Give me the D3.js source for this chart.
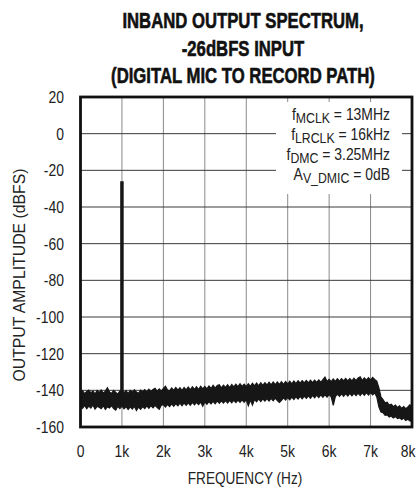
<!DOCTYPE html>
<html>
<head>
<meta charset="utf-8">
<script src="https://cdn.jsdelivr.net/npm/d3@7"></script>
<style>
  html, body { margin: 0; padding: 0; background: #fff; }
  svg { display: block; }
  .f { font-family: "Liberation Sans", Arial, sans-serif; fill: #222; }
</style>
</head>
<body>
<svg id="chart" width="417" height="490"></svg>
<script>
// ---- data ----
const titleLines = ["INBAND OUTPUT SPECTRUM,", "-26dBFS INPUT", "(DIGITAL MIC TO RECORD PATH)"];
const xTicks = [0, 1000, 2000, 3000, 4000, 5000, 6000, 7000, 8000];
const xTickLabels = ["0", "1k", "2k", "3k", "4k", "5k", "6k", "7k", "8k"];
const yTicks = [20, 0, -20, -40, -60, -80, -100, -120, -140, -160];
const yTickLabels = ["20", "0", "-20", "-40", "-60", "-80", "-100", "-120", "-140", "-160"];
const toneFreq = 1000;
const toneLevel = -26;
// noise floor envelope (top / bottom edge), frequency step 50 Hz from 0 to 8000 Hz
const noiseFreqStep = 50;
const noiseUpper = [
 -141.5,-140.2,-141.8,-140.6,-139.9,-141.4,-140.3,-142.0,-140.1,-141.2,
 -139.8,-141.6,-140.4,-138.6,-140.9,-141.7,-140.0,-141.1,-142.0,-140.3,
 -139.9,-141.3,-140.2,-141.8,-140.0,-141.0,-139.7,-140.9,-141.6,-139.9,
 -140.8,-139.6,-141.0,-139.4,-140.7,-139.5,-138.9,-140.6,-139.2,-140.4,
 -139.0,-137.8,-139.9,-140.3,-138.7,-140.0,-138.5,-139.9,-138.6,-140.1,
 -138.5,-139.8,-138.2,-139.7,-138.0,-139.5,-138.1,-139.6,-137.8,-139.2,
 -137.9,-139.2,-137.6,-139.0,-137.3,-138.8,-137.4,-136.9,-138.7,-137.2,
 -138.4,-137.0,-138.5,-136.8,-138.1,-136.7,-138.0,-136.4,-137.9,-136.6,
 -138.0,-136.4,-137.8,-136.2,-137.6,-136.0,-137.5,-135.9,-137.3,-135.8,
 -137.1,-135.6,-137.0,-135.5,-136.9,-135.4,-136.8,-135.3,-136.7,-135.2,
 -136.6,-135.1,-136.5,-134.9,-136.3,-134.8,-136.1,-134.7,-136.0,-134.6,
 -135.9,-134.5,-135.8,-134.4,-135.7,-134.3,-135.6,-134.1,-132.8,-135.2,
 -134.0,-135.3,-133.8,-135.1,-133.7,-135.0,-133.6,-134.9,-133.5,-134.8,
 -133.6,-134.9,-133.4,-134.7,-133.3,-132.6,-134.6,-133.2,-134.5,-133.1,
 -134.4,-133.0,-134.1,-135.0,-138.5,-143.5,-145.0,-146.8,-146.5,-148.0,
 -147.6,-148.9,-148.0,-149.4,-148.5,-149.8,-148.9,-150.0,-149.1,-147.9,
 -149.8
];
const noiseLower = [
 -148.5,-149.8,-148.2,-150.0,-148.6,-149.7,-148.0,-150.3,-148.8,-149.2,
 -150.0,-148.4,-150.4,-148.9,-149.6,-148.3,-149.9,-150.8,-148.7,-149.9,
 -148.6,-150.1,-148.9,-150.4,-149.0,-150.2,-148.7,-151.0,-149.1,-150.3,
 -148.9,-150.0,-148.5,-149.8,-148.3,-149.6,-148.2,-149.4,-150.3,-148.1,
 -147.8,-149.1,-147.6,-148.9,-147.4,-148.7,-147.2,-148.5,-147.0,-148.4,
 -146.9,-148.2,-146.8,-148.1,-146.6,-147.9,-146.5,-147.8,-146.4,-148.6,
 -146.3,-147.6,-146.1,-147.4,-146.0,-147.3,-145.8,-147.1,-145.7,-147.0,
 -145.6,-146.9,-145.5,-146.8,-145.4,-146.7,-145.3,-146.6,-145.2,-146.5,
 -145.1,-148.4,-145.3,-148.0,-144.9,-146.2,-144.7,-146.1,-144.6,-145.9,
 -144.5,-145.8,-144.4,-145.7,-144.3,-145.6,-146.6,-145.4,-144.1,-145.3,
 -143.9,-145.2,-143.7,-145.0,-143.5,-144.8,-143.3,-144.6,-143.1,-144.4,
 -143.0,-144.3,-142.8,-144.1,-142.6,-143.9,-142.5,-143.8,-142.4,-143.7,
 -142.3,-143.6,-148.2,-143.4,-142.1,-143.3,-141.9,-143.2,-141.8,-143.1,
 -141.7,-143.0,-141.6,-142.9,-141.5,-142.8,-141.4,-142.7,-141.3,-142.6,
 -141.2,-142.5,-141.4,-143.6,-149.0,-151.8,-152.2,-153.6,-153.4,-154.5,
 -154.0,-155.1,-154.3,-155.4,-155.0,-155.9,-155.2,-156.4,-155.8,-156.7,
 -156.9
];
const legendLines = [
  { main: "f", sub: "MCLK", rest: " = 13MHz" },
  { main: "f", sub: "LRCLK", rest: " = 16kHz" },
  { main: "f", sub: "DMC", rest: " = 3.25MHz" },
  { main: "A", sub: "V_DMIC", rest: " = 0dB" }
];

// ---- layout ----
const svg = d3.select("#chart");
const L = 80.5, R = 412, T = 97, B = 427;
const x = d3.scaleLinear().domain([0, 8000]).range([L, R]);
const y = d3.scaleLinear().domain([-160, 20]).range([B, T]);
const NARROW = 0.82;

// narrow text helper: Liberation Sans squeezed horizontally like a narrow face
function ntext(parent, px, py, anchor, size, sx, rot) {
  return parent.append("text").attr("class", "f")
    .attr("transform", `translate(${px},${py})` + (rot ? ` rotate(${rot})` : "") + ` scale(${sx},1)`)
    .attr("text-anchor", anchor).style("font-size", size + "px");
}

// title
titleLines.forEach((t, i) => {
  ntext(svg, 243, 28 + i * 27.5, "middle", 22, 0.76)
    .style("font-weight", "bold").style("fill", "#111")
    .style("stroke", "#111").style("stroke-width", "0.6px")
    .text(t);
});

// grid
const grid = svg.append("g");
grid.selectAll("line.v").data(xTicks.slice(1, -1)).join("line")
  .attr("x1", d => x(d)).attr("x2", d => x(d)).attr("y1", T).attr("y2", B)
  .attr("stroke", "#8a8a8a").attr("stroke-width", 1);
grid.selectAll("line.h").data(yTicks.slice(1, -1)).join("line")
  .attr("x1", L).attr("x2", R).attr("y1", d => y(d)).attr("y2", d => y(d))
  .attr("stroke", "#3a3a3a").attr("stroke-width", 1);

// legend background box (covers grid)
svg.append("rect").attr("x", 276).attr("y", 102).attr("width", 126).attr("height", 92).attr("fill", "#fff");

// data
svg.append("clipPath").attr("id", "clip").append("rect")
  .attr("x", L).attr("y", T).attr("width", R - L).attr("height", B - T);
const noise = noiseUpper.map((u, i) => ({ f: i * noiseFreqStep, u: u, l: noiseLower[i] }));
const area = d3.area().x(d => x(d.f)).y0(d => y(d.l)).y1(d => y(d.u));
const dg = svg.append("g").attr("clip-path", "url(#clip)");
dg.append("path").datum(noise).attr("d", area)
  .attr("fill", "#161616").attr("stroke", "#161616").attr("stroke-width", 1.2).attr("stroke-linejoin", "miter");
const toneIdx = toneFreq / noiseFreqStep;
dg.append("line")
  .attr("x1", x(toneFreq)).attr("x2", x(toneFreq))
  .attr("y1", y(noiseLower[toneIdx])).attr("y2", y(toneLevel))
  .attr("stroke", "#161616").attr("stroke-width", 3.5);

// frame
svg.append("rect").attr("x", L).attr("y", T).attr("width", R - L).attr("height", B - T)
  .attr("fill", "none").attr("stroke", "#111").attr("stroke-width", 2.8);

// tick labels
yTicks.forEach((d, i) => {
  ntext(svg, 64, y(d) + 6, "end", 17, NARROW).text(yTickLabels[i]);
});
xTicks.forEach((d, i) => {
  ntext(svg, Math.min(x(d), 408), 457, "middle", 17, NARROW).text(xTickLabels[i]);
});

// axis titles
ntext(svg, 245, 484, "middle", 17, 0.80).text("FREQUENCY (Hz)");
ntext(svg, 25, 275, "middle", 17, 0.93, -90).text("OUTPUT AMPLITUDE (dBFS)");

// legend text
legendLines.forEach((d, i) => {
  const t = ntext(svg, 390, 120 + i * 20, "end", 17, NARROW);
  t.append("tspan").text(d.main);
  t.append("tspan").attr("dy", 3).style("font-size", "15px").text(d.sub);
  t.append("tspan").attr("dy", -3).text(d.rest);
});
</script>
</body>
</html>
